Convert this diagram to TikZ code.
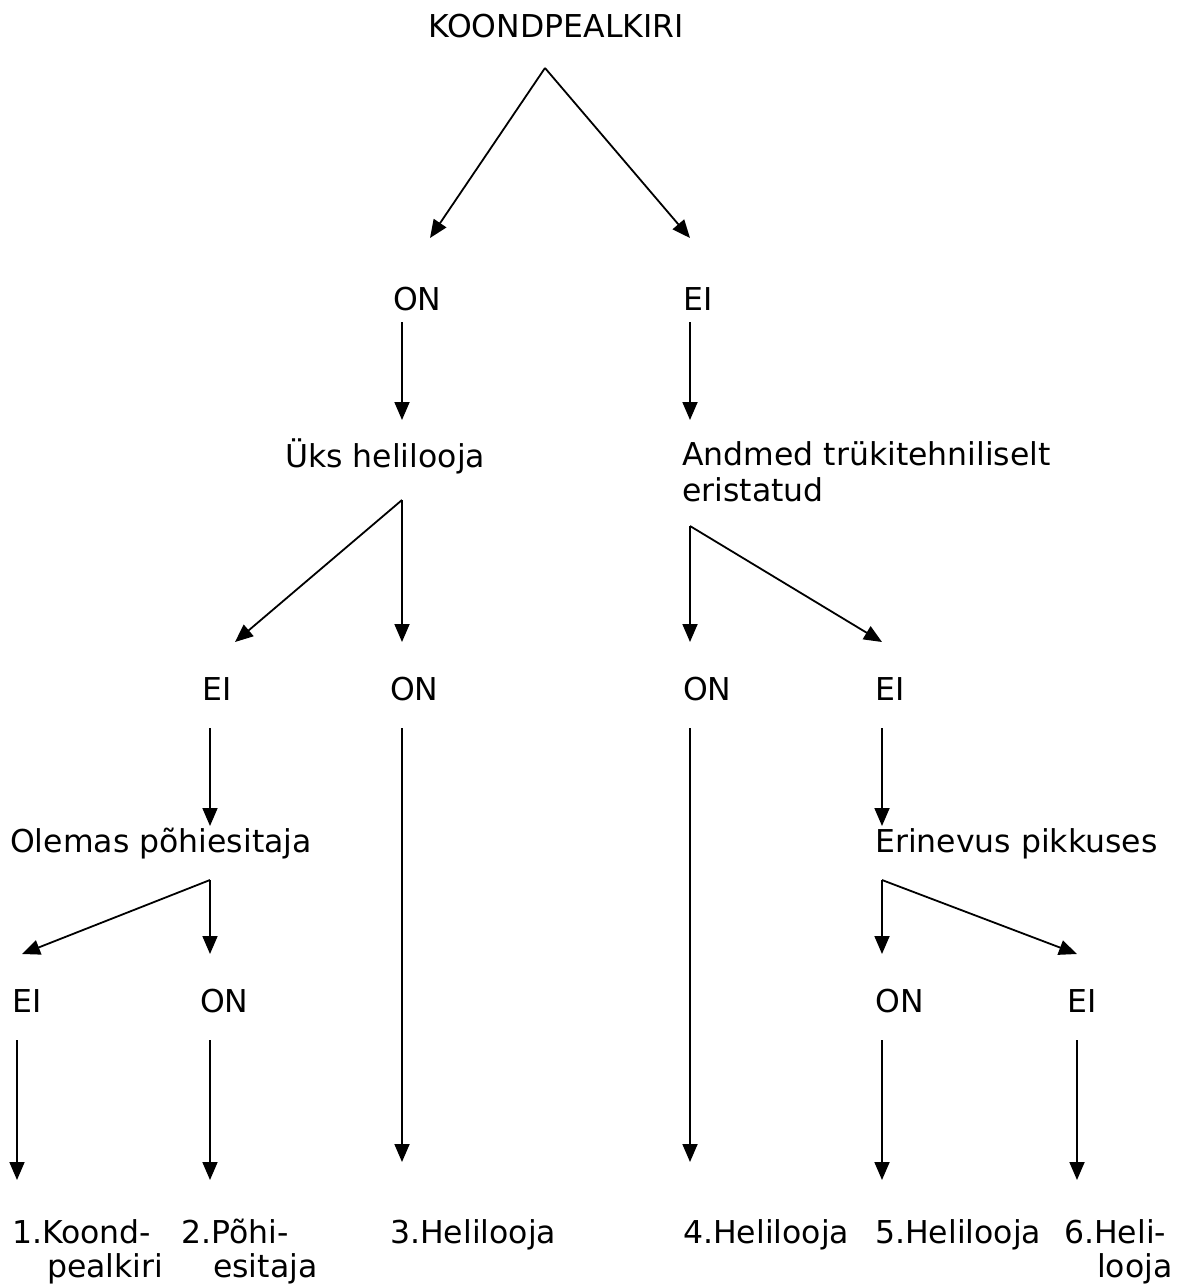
\documentclass[tikz,border=0pt]{standalone}
\usepackage{fontspec}
\setmainfont{DejaVu Sans}
\usetikzlibrary{arrows.meta}
\begin{document}
\begin{tikzpicture}[x=1pt,y=-1pt,
  lbl/.style={anchor=base west,inner sep=0pt,font=\fontsize{31.5}{36}\selectfont},
  arr/.style={line width=1.8pt,-{Triangle[length=18pt,width=15pt]}}]
\useasboundingbox (0,0) rectangle (1184,1288);
% texts
\node[lbl] (top) at (428,37) {KOONDPEALKIRI};
\node[lbl] (on1) at (393,310) {ON};
\node[lbl] (ei1) at (683,310) {EI};
\node[lbl] (uks) at (285,467) {Üks helilooja};
\node[lbl] (andm) at (682,465) {Andmed trükitehniliselt};
\node[lbl] (andm2) at (682,501) {eristatud};
\node[lbl] (ei2) at (202,700) {EI};
\node[lbl] (on2) at (390,700) {ON};
\node[lbl] (on3) at (683,700) {ON};
\node[lbl] (ei3) at (875,700) {EI};
\node[lbl] (olem) at (10,852) {Olemas põhiesitaja};
\node[lbl] (erin) at (875,852) {Erinevus pikkuses};
\node[lbl] (ei4) at (12,1012) {EI};
\node[lbl] (on4) at (200,1012) {ON};
\node[lbl] (on5) at (875,1012) {ON};
\node[lbl] (ei5) at (1067,1012) {EI};
\node[lbl] (r1) at (12,1243) {1.Koond-};
\node[lbl] (r1b) at (47,1277) {pealkiri};
\node[lbl] (r2) at (181,1243) {2.Põhi-};
\node[lbl] (r2b) at (213,1277) {esitaja};
\node[lbl] (r3) at (390,1243) {3.Helilooja};
\node[lbl] (r4) at (683,1243) {4.Helilooja};
\node[lbl] (r5) at (875,1243) {5.Helilooja};
\node[lbl] (r6) at (1064,1243) {6.Heli-};
\node[lbl] (r6b) at (1097,1277) {looja};
% connector coordinates
\coordinate (a0) at (545,68);
\coordinate (a0l) at (430,238);
\coordinate (a0r) at (690,238);
\coordinate (b1s) at (402,322); \coordinate (b1e) at (402,420);
\coordinate (b2s) at (690,322); \coordinate (b2e) at (690,420);
\coordinate (c1) at (402,500);
\coordinate (c1l) at (235,642); \coordinate (c1d) at (402,642);
\coordinate (c2) at (690,526);
\coordinate (c2d) at (690,642); \coordinate (c2r) at (882,642);
\coordinate (d1s) at (210,728); \coordinate (d1e) at (210,826);
\coordinate (d2s) at (402,728); \coordinate (d2e) at (402,1162);
\coordinate (d3s) at (690,728); \coordinate (d3e) at (690,1162);
\coordinate (d4s) at (882,728); \coordinate (d4e) at (882,826);
\coordinate (e1) at (210,880);
\coordinate (e1l) at (22,954); \coordinate (e1d) at (210,954);
\coordinate (e2) at (882,880);
\coordinate (e2d) at (882,954); \coordinate (e2r) at (1077,954);
\coordinate (f1s) at (17,1040); \coordinate (f1e) at (17,1180);
\coordinate (f2s) at (210,1040); \coordinate (f2e) at (210,1180);
\coordinate (f3s) at (882,1040); \coordinate (f3e) at (882,1180);
\coordinate (f4s) at (1077,1040); \coordinate (f4e) at (1077,1180);
% connectors
\draw[arr] (a0) -- (a0l);
\draw[arr] (a0) -- (a0r);
\draw[arr] (b1s) -- (b1e);
\draw[arr] (b2s) -- (b2e);
\draw[arr] (c1) -- (c1l);
\draw[arr] (c1) -- (c1d);
\draw[arr] (c2) -- (c2d);
\draw[arr] (c2) -- (c2r);
\draw[arr] (d1s) -- (d1e);
\draw[arr] (d2s) -- (d2e);
\draw[arr] (d3s) -- (d3e);
\draw[arr] (d4s) -- (d4e);
\draw[arr] (e1) -- (e1l);
\draw[arr] (e1) -- (e1d);
\draw[arr] (e2) -- (e2d);
\draw[arr] (e2) -- (e2r);
\draw[arr] (f1s) -- (f1e);
\draw[arr] (f2s) -- (f2e);
\draw[arr] (f3s) -- (f3e);
\draw[arr] (f4s) -- (f4e);
\end{tikzpicture}
\end{document}
